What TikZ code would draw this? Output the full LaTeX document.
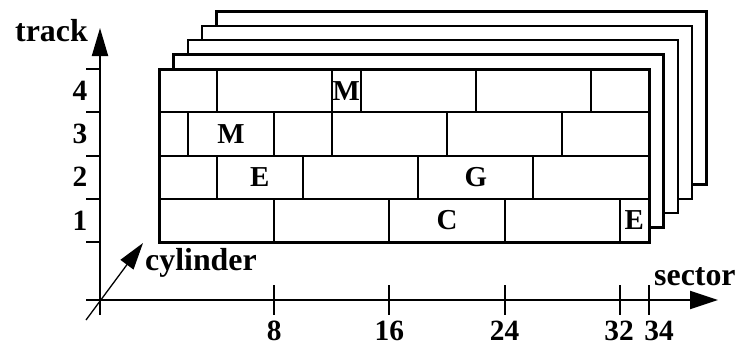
\documentclass[tikz,border=0pt]{standalone}
\usepackage{fontspec}
\setmainfont{Liberation Serif}
\usetikzlibrary{arrows.meta}
\begin{document}
\begin{tikzpicture}[x=1bp,y=-1bp,
  word/.style={font=\fontsize{32}{32}\selectfont\bfseries, inner sep=0pt, anchor=base west},
  num/.style={font=\fontsize{29.5}{29.5}\selectfont\bfseries, inner sep=0pt},
  cell/.style={font=\fontsize{29}{29}\selectfont\bfseries, inner sep=0pt},
  axis/.style={line width=2bp},
  backpage/.style={line width=2.3bp, fill=white},
  frontpage/.style={line width=3bp, fill=white},
  divider/.style={line width=2bp},
  bigtip/.style={-{Triangle[length=28bp,width=16bp]}}
]
\useasboundingbox (0,0) rectangle (738,347);
% stacked platters
\foreach \k in {4,3,2,1}
  \draw[backpage] ({159+14.4*\k},{69-14.4*\k}) rectangle ({649+14.4*\k},{242-14.4*\k});
\draw[frontpage] (159,69) rectangle (649,242);
% track boundaries
\foreach \y in {112.25,155.5,198.75}
  \draw[divider] (159,\y) -- (649,\y);
% sector dividers per track
\foreach \s in {4,12,14,22,30}
  \draw[divider] ({159+14.4*\s},69) -- ({159+14.4*\s},112.25);
\foreach \s in {2,8,12,20,28}
  \draw[divider] ({159+14.4*\s},112.25) -- ({159+14.4*\s},155.5);
\foreach \s in {4,10,18,26}
  \draw[divider] ({159+14.4*\s},155.5) -- ({159+14.4*\s},198.75);
\foreach \s in {8,16,24,32}
  \draw[divider] ({159+14.4*\s},198.75) -- ({159+14.4*\s},242);
% cell letters
\node[cell] (m4) at ({159+14.4*13},90.6) {M};
\node[cell] (m3) at ({159+14.4*5},133.9) {M};
\node[cell] (e2) at ({159+14.4*7},177.1) {E};
\node[cell] (g2) at ({159+14.4*22},177.1) {G};
\node[cell] (c1) at ({159+14.4*20},220.4) {C};
\node[cell] (e1) at ({159+14.4*33},220.4) {E};
% axes
\coordinate (ybot) at (100,315);
\coordinate (ytop) at (100,28);
\coordinate (xleft) at (86,300);
\coordinate (xright) at (718,300);
\draw[axis,bigtip] (ybot) -- (ytop);
\draw[axis,-{Triangle[length=28bp,width=18bp]}] (xleft) -- (xright);
\foreach \y in {69,112.25,155.5,198.75,242}
  \draw[axis] (86,\y) -- (100,\y);
\foreach \s in {8,16,24,32,34}
  \draw[axis] ({159+14.4*\s},285) -- ({159+14.4*\s},315);
% cylinder arrow
\coordinate (cstart) at (86,320);
\coordinate (ctip) at (143,243);
\draw[line width=1.3bp,-{Triangle[length=27bp,width=16bp]}] (cstart) -- (ctip);
% labels
\node[word] (track) at (15,41.5) {track};
\node[word] (cyl) at (145,270) {cylinder};
\node[word] (sector) at (654,285) {sector};
\node[num] (t4) at (80,90.6) {4};
\node[num] (t3) at (80,133.9) {3};
\node[num] (t2) at (80,177.1) {2};
\node[num] (t1) at (80,220.4) {1};
\node[num] (s8) at ({159+14.4*8},331) {8};
\node[num] (s16) at ({159+14.4*16},331) {16};
\node[num] (s24) at ({159+14.4*24},331) {24};
\node[num] (s32) at (619,331) {32};
\node[num] (s34) at (659,331) {34};
\end{tikzpicture}
\end{document}
